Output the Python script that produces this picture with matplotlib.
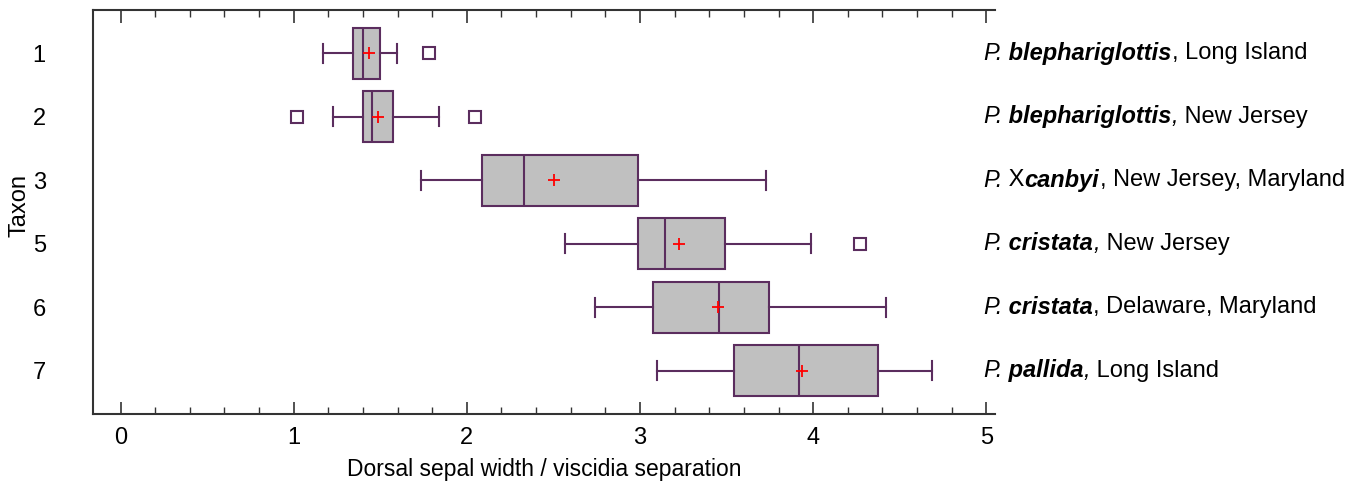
import matplotlib
matplotlib.use("Agg")
import matplotlib.pyplot as plt
from matplotlib.ticker import MultipleLocator

plt.rcParams['font.family'] = ['Liberation Sans', 'DejaVu Sans']

taxa = ["1", "2", "3", "5", "6", "7"]
whislo = [1.167, 1.229, 1.737, 2.566, 2.741, 3.096]
q1 = [1.344, 1.398, 2.089, 2.988, 3.073, 3.542]
med = [1.398, 1.450, 2.328, 3.142, 3.457, 3.917]
q3 = [1.498, 1.575, 2.990, 3.488, 3.742, 4.372]
whishi = [1.598, 1.837, 3.727, 3.988, 4.418, 4.685]
means = [1.435, 1.489, 2.503, 3.226, 3.450, 3.933]
fliers = [[1.783], [1.021, 2.047], [], [4.270], [], []]

# label pieces: (text, style) style: 'i' italic, 'bi' bold italic, 'r' regular
labels = [
    [("P.", "i"), (" blephariglottis", "bi"), (", Long Island", "r")],
    [("P.", "i"), (" blephariglottis", "bi"), (",", "i"), (" New Jersey", "r")],
    [("P.", "i"), (" X", "r"), ("canbyi", "bi"), (", New Jersey, Maryland", "r")],
    [("P.", "i"), (" cristata", "bi"), (",", "i"), (" New Jersey", "r")],
    [("P.", "i"), (" cristata", "bi"), (", Delaware, Maryland", "r")],
    [("P.", "i"), (" pallida", "bi"), (",", "i"), (" Long Island", "r")],
]

xlabel = "Dorsal sepal width / viscidia separation"
ylabel = "Taxon"

edge = "#5B2D5E"
fig = plt.figure(figsize=(13.69, 4.96), dpi=100)
ax = fig.add_axes([93 / 1369, 1 - 414 / 496, (995 - 93) / 1369, (414 - 10) / 496])

stats = []
for i in range(len(taxa)):
    stats.append(dict(whislo=whislo[i], q1=q1[i], med=med[i], q3=q3[i],
                      whishi=whishi[i], mean=means[i], fliers=fliers[i]))

pos = list(range(len(taxa)))
ax.bxp(stats, positions=pos, vert=False, widths=0.8, patch_artist=True,
       showmeans=True, showfliers=True,
       boxprops=dict(facecolor="#C0C0C0", edgecolor=edge, linewidth=1.5),
       medianprops=dict(color=edge, linewidth=1.5),
       whiskerprops=dict(color=edge, linewidth=1.5),
       capprops=dict(color=edge, linewidth=1.5),
       capwidths=0.3,
       meanprops=dict(marker="+", markeredgecolor="#FF0000", markersize=9, markeredgewidth=1.3),
       flierprops=dict(marker="s", markerfacecolor="white", markeredgecolor=edge,
                       markersize=9, markeredgewidth=1.5))

ax.set_ylim(len(taxa) - 1 + 0.68, -0.68)
ax.set_xlim(-0.159, 5.05)
ax.set_yticks(pos)
ax.set_yticklabels(taxa, fontsize=17)
ax.xaxis.set_major_locator(MultipleLocator(1))
ax.xaxis.set_minor_locator(MultipleLocator(0.2))
ax.tick_params(axis='x', which='both', direction='in', top=True, bottom=True,
               labelsize=17, pad=9, color="#333333")
ax.tick_params(axis='x', which='major', length=9, width=1.2)
ax.tick_params(axis='x', which='minor', length=5, width=1.0)
ax.tick_params(axis='y', length=0, pad=34)
ax.spines['right'].set_visible(False)
for s in ['left', 'top', 'bottom']:
    ax.spines[s].set_color("#333333")
    ax.spines[s].set_linewidth(1.5)
ax.set_xlabel(xlabel, fontsize=16.5, labelpad=7)
ax.set_ylabel(ylabel, fontsize=17)
ax.yaxis.set_label_coords((30 - 93) / 902, 0.515)

# right-side labels built from styled pieces
fig.canvas.draw()
renderer = fig.canvas.get_renderer()
for i, pieces in enumerate(labels):
    x0 = 983 / 1369
    _, yfig = fig.transFigure.inverted().transform(ax.transData.transform((0, pos[i])))
    x = x0
    for txt, st in pieces:
        kw = dict(fontsize=17, va='center', ha='left', color='black')
        if st == 'i':
            kw.update(style='italic')
        elif st == 'bi':
            kw.update(style='italic', weight='bold')
        t = fig.text(x, yfig, txt, **kw)
        bb = t.get_window_extent(renderer=renderer)
        x += bb.width / fig.bbox.width

fig.savefig("out.png", dpi=100)
